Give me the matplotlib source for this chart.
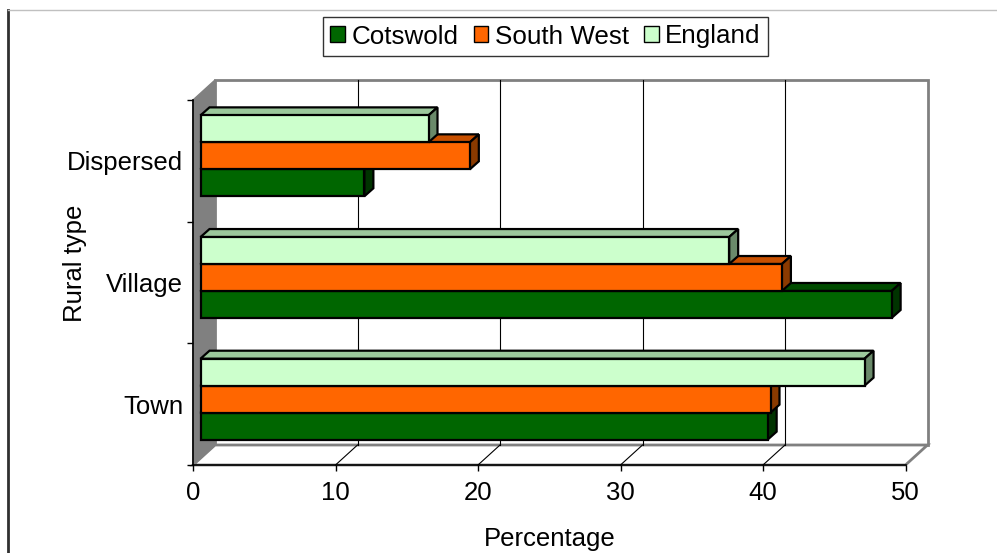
import matplotlib.pyplot as plt
from matplotlib.patches import Polygon, Patch
from matplotlib.lines import Line2D

plt.rcParams['font.family'] = ['Liberation Sans', 'DejaVu Sans']

# data (percentages), bottom to top
categories = ['Town', 'Village', 'Dispersed']
series = ['Cotswold', 'South West', 'England']
cotswold = [39.8, 48.5, 11.5]
south_west = [40.0, 40.8, 18.9]
england = [46.6, 37.1, 16.0]
x_ticks = [0, 10, 20, 30, 40, 50]

values = [cotswold, south_west, england]
face_col = ['#006600', '#FF6600', '#CCFFCC']
top_col = ['#004C00', '#C85000', '#9CC89C']
side_col = ['#003300', '#8A3A00', '#6A8A6A']

W, H, DPI = 997, 553, 100
fig = plt.figure(figsize=(W / DPI, H / DPI), dpi=DPI)

# front plane of the 3-D box, in pixels from top-left
L, R, T, B = 193, 905.5, 100, 465
ax = fig.add_axes([L / W, 1 - B / H, (R - L) / W, (B - T) / H])
xmax = x_ticks[-1]
ncat = len(categories)
ax.set_xlim(0, xmax)
ax.set_ylim(0, ncat)

ux = (R - L) / xmax   # pixels per data unit
uy = (B - T) / ncat

def px(dx, dy):
    return dx / ux, dy / uy

# walls and floor
wdx, wdy = px(22, 20)
back = Polygon([(wdx, wdy), (xmax + wdx, wdy), (xmax + wdx, ncat + wdy), (wdx, ncat + wdy)],
               closed=True, fc='white', ec='#808080', lw=2, clip_on=False, zorder=0)
left = Polygon([(0, 0), (wdx, wdy), (wdx, ncat + wdy), (0, ncat)],
               closed=True, fc='#808080', ec='#808080', lw=1, clip_on=False, zorder=1)
floor = Polygon([(0, 0), (xmax, 0), (xmax + wdx, wdy), (wdx, wdy)],
                closed=True, fc='white', ec='#808080', lw=2, clip_on=False, zorder=0.5)
ax.add_patch(back)
ax.add_patch(floor)
ax.add_patch(left)
for t in x_ticks[1:-1]:
    ax.add_line(Line2D([t + wdx, t + wdx], [wdy, ncat + wdy], color='black', lw=0.8,
                       clip_on=False, zorder=0.6))
    ax.add_line(Line2D([t, t + wdx], [0, wdy], color='black', lw=0.8,
                       clip_on=False, zorder=0.6))

# bars
bdx, bdy = px(7.5, 5)      # bar front offset from front plane
ddx, ddy = px(9, 8)        # bar depth
h = 0.2217
for i, vals in enumerate(values):
    for c, v in enumerate(vals):
        y0 = c + 0.5 + bdy + (i - 1.5) * h
        z = 2 + i
        ax.barh(y0, v, height=h, left=bdx, align='edge', color=face_col[i],
                edgecolor='black', lw=1.6, zorder=z + 0.2)
        x1 = bdx + v
        ax.add_patch(Polygon([(bdx, y0 + h), (x1, y0 + h), (x1 + ddx, y0 + h + ddy),
                              (bdx + ddx, y0 + h + ddy)], closed=True, fc=top_col[i],
                             ec='black', lw=1.6, zorder=z, clip_on=False))
        ax.add_patch(Polygon([(x1, y0), (x1 + ddx, y0 + ddy), (x1 + ddx, y0 + h + ddy),
                              (x1, y0 + h)], closed=True, fc=side_col[i],
                             ec='black', lw=1.6, zorder=z, clip_on=False))

# axes
for s in ['top', 'right']:
    ax.spines[s].set_visible(False)
for s in ['left', 'bottom']:
    ax.spines[s].set_color('black')
    ax.spines[s].set_linewidth(1.2)
    ax.spines[s].set_zorder(1.5)
ax.set_xticks(x_ticks)
ax.set_xticklabels([str(t) for t in x_ticks])
ax.set_yticks(range(ncat + 1))
ax.set_yticklabels([])
ax.set_yticks([c + 0.5 for c in range(ncat)], minor=True)
ax.set_yticklabels(categories, minor=True)
ax.tick_params(axis='x', direction='out', length=4.5, width=1, labelsize=18.5, pad=7)
ax.tick_params(axis='y', which='major', direction='out', length=4.5, width=1)
ax.tick_params(axis='y', which='minor', length=0, labelsize=18.5, pad=7)
ax.set_xlabel('Percentage', fontsize=18.5, labelpad=16)
ax.set_ylabel('Rural type', fontsize=18.5)
ax.yaxis.set_label_coords((87 - L) / (R - L), (B - 263) / (B - T))

# legend
handles = [Patch(fc=face_col[i], ec='black', lw=1) for i in range(3)]
fig.legend(handles, series, loc='center', bbox_to_anchor=(545.5 / W, 1 - 36.5 / H),
           ncol=3, fontsize=18.7, frameon=True, fancybox=False, edgecolor='black',
           handlelength=0.55, handleheight=0.55, handletextpad=0.25, columnspacing=0.6,
           borderpad=0.3, borderaxespad=0)
leg = fig.legends[0]
leg.get_frame().set_linewidth(1)

# outer chart border
fig.add_artist(Line2D([8 / W, 8 / W], [0, 1 - 10 / H], color='#303030', lw=2,
                      transform=fig.transFigure))
fig.add_artist(Line2D([8 / W, 1], [1 - 10 / H, 1 - 10 / H], color='#C0C0C0', lw=1,
                      transform=fig.transFigure))

fig.savefig('out.png', dpi=DPI)
